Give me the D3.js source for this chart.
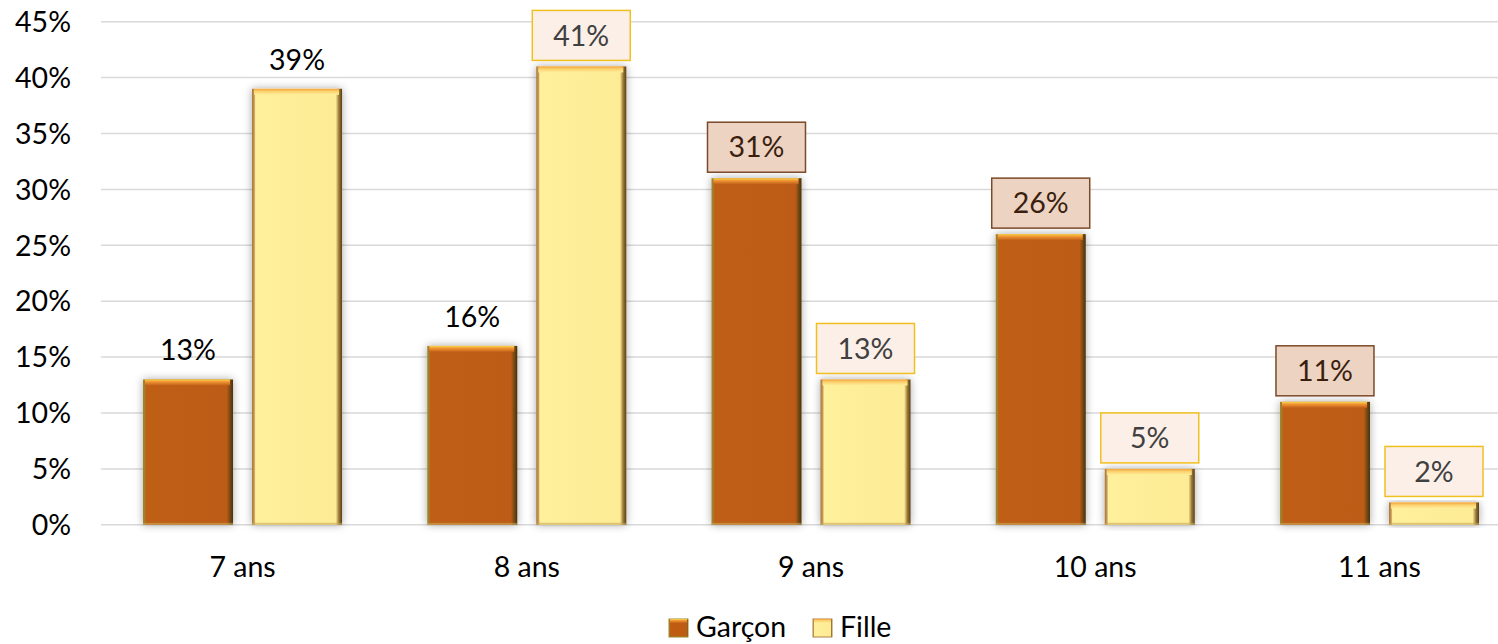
<!DOCTYPE html>
<html>
<head>
<meta charset="utf-8">
<script src="https://cdn.jsdelivr.net/npm/d3@7"></script>
<style>
    body { margin: 0; background: #fff; }
    svg { display: block; font-family: Lato, "Open Sans", sans-serif; }
</style>
</head>
<body>
<div id="chart"></div>
<script>
const categories = ["7 ans", "8 ans", "9 ans", "10 ans", "11 ans"];
const series = ["Garçon", "Fille"];
const garconValues = [13, 16, 31, 26, 11];
const filleValues = [39, 41, 13, 5, 2];
const yTicks = [0, 5, 10, 15, 20, 25, 30, 35, 40, 45];
// which data labels Excel drew inside a callout box
const garconBoxed = [false, false, true, true, true];
const filleBoxed = [false, true, true, true, true];

const width = 1498, height = 644;
const fontSize = 28.5;

const data = categories.map((c, i) => ({
    cat: c,
    values: [
        { s: "Garçon", v: garconValues[i], boxed: garconBoxed[i] },
        { s: "Fille", v: filleValues[i], boxed: filleBoxed[i] }
    ]
}));

const svg = d3.select("#chart").append("svg")
    .attr("width", width)
    .attr("height", height);

const defs = svg.append("defs");

// bevel look: side edges in a horizontal gradient, highlight strip on top
const styles = {
    "Garçon": {
        side: [[0, "#9a8a30"], [0.025, "#a8762a"], [0.035, "#bf5e12"], [0.93, "#bd5c12"], [0.965, "#7a4a14"], [1, "#4a3008"]],
        top: [[0, "#f7d84c"], [0.35, "#f39a35"], [1, "#c3601a"]],
        boxFill: "#edd3c2", boxStroke: "#7b4a2a", boxText: "#3a1f0f"
    },
    "Fille": {
        side: [[0, "#a8743a"], [0.025, "#c89a58"], [0.04, "#fff09c"], [0.93, "#fdeb95"], [0.965, "#9a7a3a"], [1, "#5a4010"]],
        top: [[0, "#f2a03a"], [0.4, "#fbcf6c"], [1, "#feee9a"]],
        boxFill: "#fcefe7", boxStroke: "#f0c020", boxText: "#404040"
    }
};

series.forEach((s, k) => {
    const side = defs.append("linearGradient").attr("id", "side" + k)
        .attr("x1", 0).attr("x2", 1).attr("y1", 0).attr("y2", 0);
    styles[s].side.forEach(([o, c]) => side.append("stop").attr("offset", o).attr("stop-color", c));
    const top = defs.append("linearGradient").attr("id", "top" + k)
        .attr("x1", 0).attr("x2", 0).attr("y1", 0).attr("y2", 1);
    styles[s].top.forEach(([o, c]) => top.append("stop").attr("offset", o).attr("stop-color", c));
});

const shadow = defs.append("filter").attr("id", "shadow")
    .attr("x", "-20%").attr("y", "-10%").attr("width", "140%").attr("height", "120%");
shadow.append("feDropShadow")
    .attr("dx", 0).attr("dy", 0).attr("stdDeviation", 4)
    .attr("flood-color", "#000").attr("flood-opacity", 0.35);

const x0 = d3.scaleBand()
    .domain(categories)
    .range([100.4, 1521.6])
    .padding(0);

const x1 = d3.scaleBand()
    .domain(series)
    .range([42.6, x0.bandwidth() - 42.6])
    .paddingInner(0.1743);

const y = d3.scaleLinear()
    .domain([0, 45])
    .range([524.8, 21.7]);

// gridlines
svg.append("g")
    .selectAll("line")
    .data(yTicks)
    .join("line")
    .attr("x1", 101)
    .attr("x2", 1522)
    .attr("y1", d => y(d))
    .attr("y2", d => y(d))
    .attr("stroke", "#d9d9d9")
    .attr("stroke-width", 1.5);

// y axis labels
svg.append("g")
    .selectAll("text")
    .data(yTicks)
    .join("text")
    .attr("x", 71)
    .attr("y", d => y(d))
    .attr("dy", "0.36em")
    .attr("text-anchor", "end")
    .attr("font-size", fontSize)
    .attr("fill", "#000")
    .text(d => d + "%");

// x axis labels
svg.append("g")
    .selectAll("text")
    .data(categories)
    .join("text")
    .attr("x", d => x0(d) + x0.bandwidth() / 2)
    .attr("y", 577)
    .attr("text-anchor", "middle")
    .attr("font-size", fontSize)
    .attr("fill", "#000")
    .text(d => d);

const groups = svg.append("g")
    .selectAll("g")
    .data(data)
    .join("g")
    .attr("transform", d => `translate(${x0(d.cat)},0)`);

const bars = groups.selectAll("g.bar")
    .data(d => d.values)
    .join("g")
    .attr("class", "bar");

bars.append("rect")
    .attr("x", d => x1(d.s))
    .attr("y", d => y(d.v))
    .attr("width", x1.bandwidth())
    .attr("height", d => y(0) - y(d.v))
    .attr("fill", d => `url(#side${series.indexOf(d.s)})`)
    .attr("filter", "url(#shadow)");

bars.append("rect")
    .attr("x", d => x1(d.s) + 2)
    .attr("y", d => y(d.v))
    .attr("width", x1.bandwidth() - 5)
    .attr("height", d => Math.min(6, y(0) - y(d.v)))
    .attr("fill", d => `url(#top${series.indexOf(d.s)})`);

bars.append("rect")
    .attr("x", d => x1(d.s))
    .attr("y", y(0) - 2)
    .attr("width", x1.bandwidth())
    .attr("height", 2)
    .attr("fill", "#c8a85a")
    .attr("opacity", 0.6);

// data labels
const boxW = 98, boxH = 50;

bars.filter(d => d.boxed).append("rect")
    .attr("x", d => x1(d.s) + x1.bandwidth() / 2 - boxW / 2)
    .attr("y", d => y(d.v) - 6 - boxH)
    .attr("width", boxW)
    .attr("height", boxH)
    .attr("fill", d => styles[d.s].boxFill)
    .attr("stroke", d => styles[d.s].boxStroke)
    .attr("stroke-width", 1.5);

bars.append("text")
    .attr("x", d => x1(d.s) + x1.bandwidth() / 2)
    .attr("y", d => d.boxed ? y(d.v) - 6 - boxH / 2 : y(d.v) - 19)
    .attr("dy", d => d.boxed ? "0.36em" : 0)
    .attr("text-anchor", "middle")
    .attr("font-size", fontSize)
    .attr("fill", d => d.boxed ? styles[d.s].boxText : "#000")
    .text(d => d.v + "%");

// legend
const legend = svg.append("g");
const legendItems = [
    { s: "Garçon", x: 669 },
    { s: "Fille", x: 813 }
];
legendItems.forEach(item => {
    const k = series.indexOf(item.s);
    legend.append("rect")
        .attr("x", item.x)
        .attr("y", 619)
        .attr("width", 19)
        .attr("height", 18)
        .attr("fill", `url(#side${k})`)
        .attr("stroke", k === 0 ? "#9a8a30" : "#b08040")
        .attr("stroke-width", 1);
    legend.append("rect")
        .attr("x", item.x + 1)
        .attr("y", 619)
        .attr("width", 17)
        .attr("height", 4)
        .attr("fill", `url(#top${k})`);
    legend.append("text")
        .attr("x", item.x + 27)
        .attr("y", 637)
        .attr("font-size", fontSize)
        .attr("fill", "#000")
        .text(item.s);
});
</script>
</body>
</html>
